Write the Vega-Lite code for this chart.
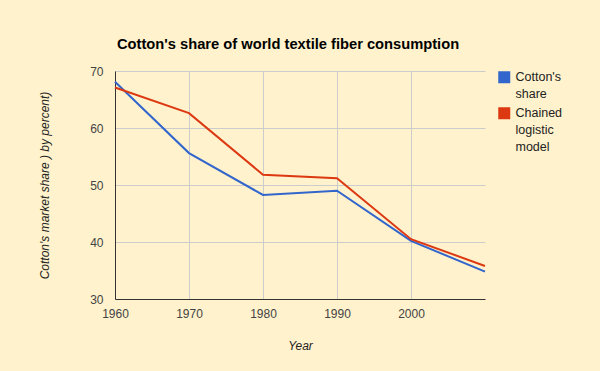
{
  "$schema": "https://vega.github.io/schema/vega-lite/v6.json",
  "width": 370,
  "height": 228,
  "autosize": "none",
  "padding": {"left": 115, "top": 71, "right": 115, "bottom": 72},
  "background": "#FFF2CC",
  "title": {"text": "Cotton's share of world textile fiber consumption", "anchor": "start", "frame": "group", "font": "Liberation Sans", "fontSize": 14.7, "fontWeight": "bold", "color": "#000000", "offset": 13, "dx": 2},
  "config": {
    "view": {"stroke": null},
    "font": "Liberation Sans"
  },
  "data": {"values": [
    {"year": 1960, "series": "Cotton's share", "value": 68.1},
    {"year": 1970, "series": "Cotton's share", "value": 55.6},
    {"year": 1980, "series": "Cotton's share", "value": 48.25},
    {"year": 1990, "series": "Cotton's share", "value": 49.0},
    {"year": 2000, "series": "Cotton's share", "value": 40.2},
    {"year": 2010, "series": "Cotton's share", "value": 34.8},
    {"year": 1960, "series": "Chained logistic model", "value": 67.1},
    {"year": 1970, "series": "Chained logistic model", "value": 62.6},
    {"year": 1980, "series": "Chained logistic model", "value": 51.8},
    {"year": 1990, "series": "Chained logistic model", "value": 51.2},
    {"year": 2000, "series": "Chained logistic model", "value": 40.5},
    {"year": 2010, "series": "Chained logistic model", "value": 35.8}
  ]},
  "mark": {"type": "line", "strokeWidth": 2},
  "encoding": {
    "x": {"field": "year", "type": "quantitative", "scale": {"domain": [1960, 2010], "nice": false, "zero": false},
      "axis": {"values": [1960, 1970, 1980, 1990, 2000], "format": "d", "title": "Year", "titleFontStyle": "italic", "titleFontWeight": "normal", "titleFontSize": 12, "titleColor": "#222222", "titlePadding": 21,
        "labelFontSize": 12, "labelColor": "#444444", "labelPadding": 9, "ticks": false, "domainColor": "#333333", "gridColor": "#CCCCCC", "grid": true, "labelFlush": false}},
    "y": {"field": "value", "type": "quantitative", "scale": {"domain": [30, 70], "nice": false, "zero": false},
      "axis": {"values": [30, 40, 50, 60, 70], "title": "Cotton's market share ) by percent)", "titleFontStyle": "italic", "titleFontWeight": "normal", "titleFontSize": 12, "titleColor": "#222222", "titlePadding": 38,
        "labelFontSize": 12, "labelColor": "#444444", "labelPadding": 12, "ticks": false, "domainColor": "#333333", "gridColor": "#CCCCCC", "grid": true}},
    "color": {"field": "series", "type": "nominal", "sort": ["Cotton's share", "Chained logistic model"],
      "scale": {"domain": ["Cotton's share", "Chained logistic model"], "range": ["#3366CC", "#DC3912"]},
      "legend": {"title": null, "offset": 9, "padding": 0, "symbolType": "square", "symbolSize": 144, "labelFontSize": 12.5, "labelColor": "#222222", "rowPadding": 6, "labelOffset": 5,
        "labelExpr": "datum.label == \"Cotton's share\" ? [\"Cotton's\", \"share\"] : [\"Chained\", \"logistic\", \"model\"]", "labelBaseline": "top",
        "encode": {"symbols": {"update": {"fill": {"scale": "color", "field": "value"}, "strokeWidth": {"value": 0}}},
          "labels": {"update": {"dy": {"value": -6}, "lineHeight": {"value": 17}}}}}}
  }
}
